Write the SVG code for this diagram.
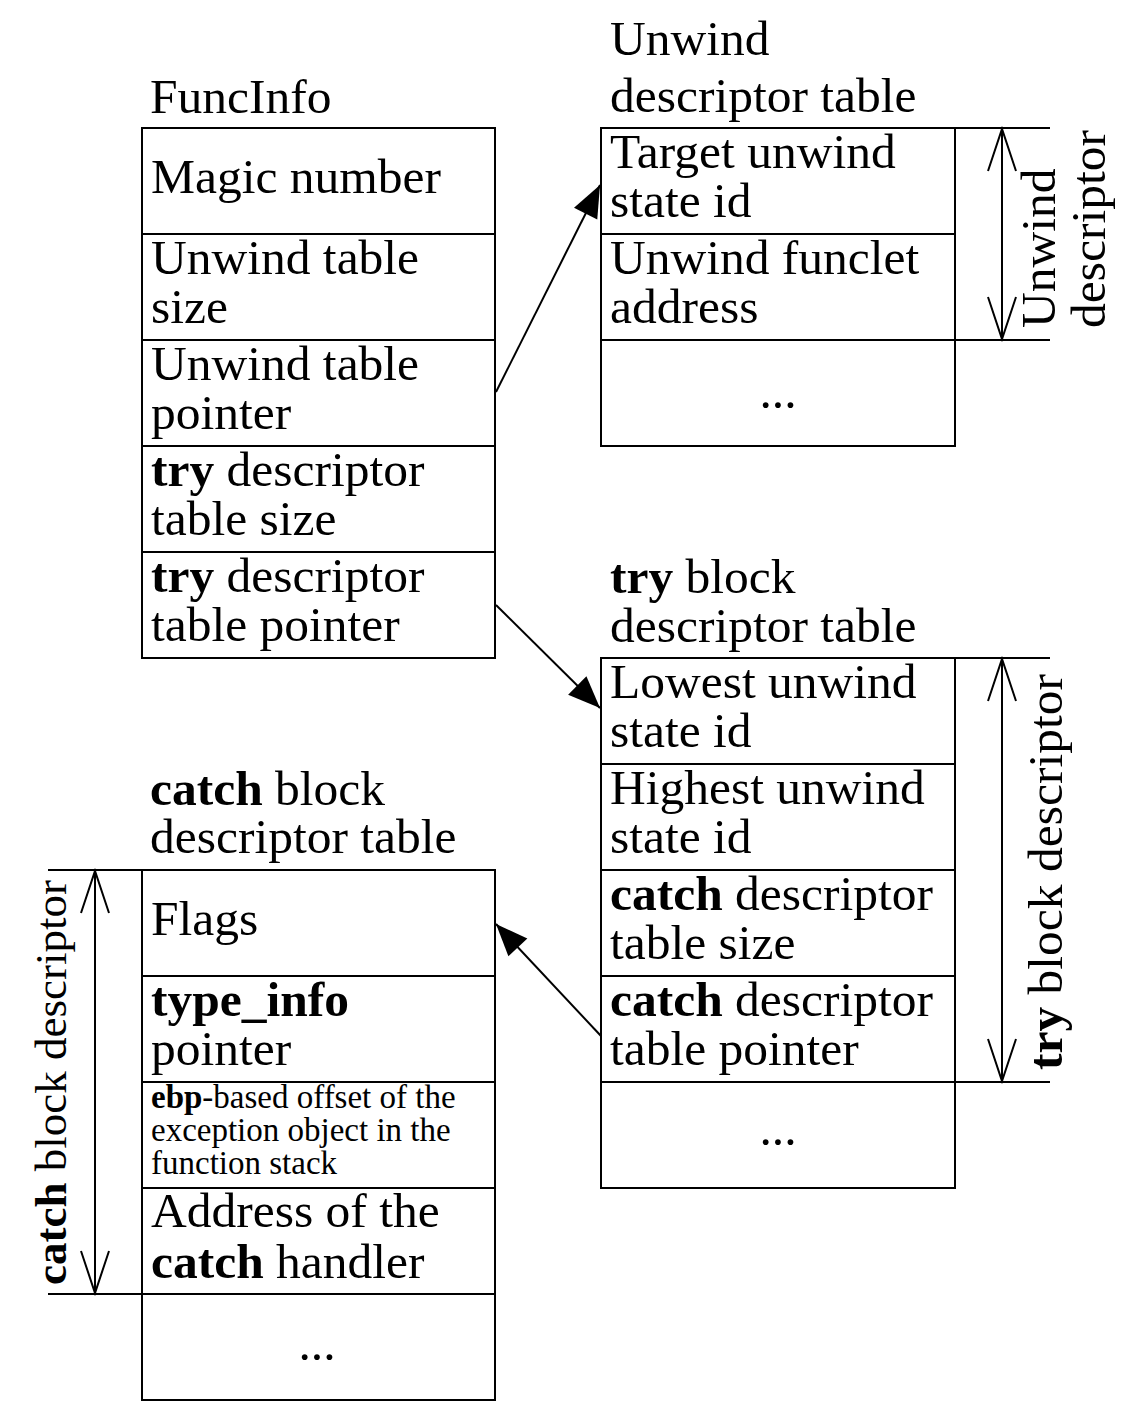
<svg xmlns="http://www.w3.org/2000/svg" width="1131" height="1425" viewBox="0 0 1131 1425">
<style>
text { font-family: "Liberation Serif", "Times New Roman", serif; font-size: 49.5px; fill: #000; }
.b { font-weight: bold; }
.sm { font-size: 33px; }
.cell { fill: #fff; stroke: #000; stroke-width: 2; }
.ln { stroke: #000; stroke-width: 2; fill: none; }
.dim { stroke: #000; stroke-width: 2; fill: none; marker-start: url(#open); marker-end: url(#open); }
.conn { stroke: #000; stroke-width: 2; fill: none; marker-end: url(#solid); }
</style>
<defs>
<marker id="open" markerUnits="userSpaceOnUse" markerWidth="46" markerHeight="32" refX="43" refY="16" orient="auto-start-reverse" overflow="visible">
<path d="M1,2 L43,16 L1,30" fill="none" stroke="#000" stroke-width="2"/>
</marker>
<marker id="solid" markerUnits="userSpaceOnUse" markerWidth="34" markerHeight="28" refX="32" refY="13" orient="auto" overflow="visible">
<path d="M0,0 L32,13 L0,26 z" fill="#000"/>
</marker>
</defs>
<rect width="1131" height="1425" fill="#fff"/>

<g id="funcinfo">
<text x="150" y="113">FuncInfo</text>
<rect class="cell" x="142" y="128" width="353" height="106"/>
<rect class="cell" x="142" y="234" width="353" height="106"/>
<rect class="cell" x="142" y="340" width="353" height="106"/>
<rect class="cell" x="142" y="446" width="353" height="106"/>
<rect class="cell" x="142" y="552" width="353" height="106"/>
<text x="151" y="193">Magic number</text>
<text x="151" y="274">Unwind table</text>
<text x="151" y="323">size</text>
<text x="151" y="380">Unwind table</text>
<text x="151" y="429">pointer</text>
<text x="151" y="486"><tspan class="b">try</tspan> descriptor</text>
<text x="151" y="535">table size</text>
<text x="151" y="592"><tspan class="b">try</tspan> descriptor</text>
<text x="151" y="641">table pointer</text>
</g>

<g id="unwind-table">
<text x="610" y="55">Unwind</text>
<text x="610" y="112">descriptor table</text>
<rect class="cell" x="601" y="128" width="354" height="106"/>
<rect class="cell" x="601" y="234" width="354" height="106"/>
<rect class="cell" x="601" y="340" width="354" height="106"/>
<text x="610" y="168">Target unwind</text>
<text x="610" y="217">state id</text>
<text x="610" y="274">Unwind funclet</text>
<text x="610" y="323">address</text>
<text x="778" y="408" text-anchor="middle">...</text>
</g>

<g id="unwind-descriptor-dim">
<line class="ln" x1="955" y1="128" x2="1050" y2="128"/>
<line class="ln" x1="955" y1="340" x2="1050" y2="340"/>
<line class="dim" x1="1002" y1="129" x2="1002" y2="339"/>
<text transform="translate(1055,328) rotate(-90)">Unwind</text>
<text transform="translate(1105,328) rotate(-90)">descriptor</text>
</g>

<g id="try-table">
<text x="610" y="593"><tspan class="b">try</tspan> block</text>
<text x="610" y="642">descriptor table</text>
<rect class="cell" x="601" y="658" width="354" height="106"/>
<rect class="cell" x="601" y="764" width="354" height="106"/>
<rect class="cell" x="601" y="870" width="354" height="106"/>
<rect class="cell" x="601" y="976" width="354" height="106"/>
<rect class="cell" x="601" y="1082" width="354" height="106"/>
<text x="610" y="698">Lowest unwind</text>
<text x="610" y="747">state id</text>
<text x="610" y="804">Highest unwind</text>
<text x="610" y="853">state id</text>
<text x="610" y="910"><tspan class="b">catch</tspan> descriptor</text>
<text x="610" y="959">table size</text>
<text x="610" y="1016"><tspan class="b">catch</tspan> descriptor</text>
<text x="610" y="1065">table pointer</text>
<text x="778" y="1145" text-anchor="middle">...</text>
</g>

<g id="try-descriptor-dim">
<line class="ln" x1="955" y1="658" x2="1050" y2="658"/>
<line class="ln" x1="955" y1="1082" x2="1050" y2="1082"/>
<line class="dim" x1="1002" y1="659" x2="1002" y2="1081"/>
<text transform="translate(1062,1070) rotate(-90)"><tspan class="b">try</tspan> block descriptor</text>
</g>

<g id="catch-table">
<text x="150" y="805"><tspan class="b">catch</tspan> block</text>
<text x="150" y="853">descriptor table</text>
<rect class="cell" x="142" y="870" width="353" height="106"/>
<rect class="cell" x="142" y="976" width="353" height="106"/>
<rect class="cell" x="142" y="1082" width="353" height="106"/>
<rect class="cell" x="142" y="1188" width="353" height="106"/>
<rect class="cell" x="142" y="1294" width="353" height="106"/>
<text x="151" y="935">Flags</text>
<text x="151" y="1016" class="b">type_info</text>
<text x="151" y="1065">pointer</text>
<text x="151" y="1108" class="sm"><tspan class="b">ebp</tspan>-based offset of the</text>
<text x="151" y="1141" class="sm">exception object in the</text>
<text x="151" y="1174" class="sm">function stack</text>
<text x="151" y="1227">Address of the</text>
<text x="151" y="1278"><tspan class="b">catch</tspan> handler</text>
<text x="317" y="1360" text-anchor="middle">...</text>
</g>

<g id="catch-descriptor-dim">
<line class="ln" x1="48" y1="870" x2="142" y2="870"/>
<line class="ln" x1="48" y1="1294" x2="142" y2="1294"/>
<line class="dim" x1="95" y1="871" x2="95" y2="1293"/>
<text transform="translate(66,1285) rotate(-90)" style="font-size:45px"><tspan class="b">catch</tspan> block descriptor</text>
</g>

<g id="connectors">
<line class="conn" x1="496" y1="392" x2="600" y2="185"/>
<line class="conn" x1="496" y1="605" x2="600" y2="708"/>
<line class="conn" x1="601" y1="1036" x2="496" y2="924"/>
</g>
</svg>
